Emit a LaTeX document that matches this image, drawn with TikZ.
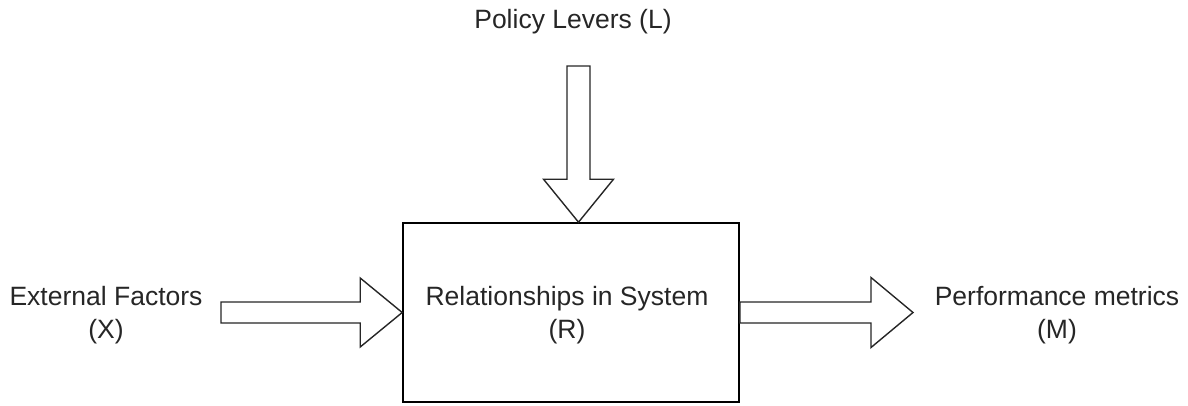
\documentclass[tikz,border=0pt]{standalone}
\usepackage{fontspec}
\setmainfont{Liberation Sans}
\usetikzlibrary{calc}
\tikzset{
  label text/.style={align=center, inner sep=0pt, font=\fontsize{26.5}{33}\selectfont, text=black!85},
  system box/.style={draw=black, line width=1.6pt, minimum width=336pt, minimum height=179pt, inner sep=0pt},
  block arrow/.style={draw=black!85, line width=1.4pt, fill=white, line join=miter}
}
% hollow block arrow from #1 to #2; #3 = shaft half-width, #4 = head half-width, #5 = head length
\newcommand\blockarrow[5]{%
  \coordinate (hb) at ($(#2)!#5!(#1)$);
  \draw[block arrow]
    ($(#1)!#3!90:(#2)$) -- ($(hb)!#3!-90:(#1)$) -- ($(hb)!#4!-90:(#1)$) -- (#2)
    -- ($(hb)!#4!90:(#1)$) -- ($(hb)!#3!90:(#1)$) -- ($(#1)!#3!-90:(#2)$) -- cycle;
}
\begin{document}
\begin{tikzpicture}[x=1pt,y=-1pt]
  \useasboundingbox (0,0) rectangle (1188,405);

  % central system
  \node[system box] (R) at (571,312.5) {};
  \node[label text] (Rt) at (567,315) {Relationships in System\\(R)};

  % outer labels
  \node[label text] (L) at (573,22) {Policy Levers (L)};
  \node[label text] (X) at (106,315) {External Factors\\(X)};
  \node[label text] (M) at (1057,315) {Performance metrics\\(M)};

  % arrow end points
  \coordinate (xtail) at (221,312.5);
  \coordinate (xtip) at (R.west);
  \coordinate (ltail) at (578.5,66);
  \coordinate (ltip) at (ltail |- R.north);
  \coordinate (mtail) at (R.east);
  \coordinate (mtip) at (913,312.5);

  \blockarrow{xtail}{xtip}{10.5pt}{34.5pt}{42pt}
  \blockarrow{ltail}{ltip}{11.5pt}{35pt}{43pt}
  \blockarrow{mtail}{mtip}{10.5pt}{35pt}{42pt}
\end{tikzpicture}
\end{document}
